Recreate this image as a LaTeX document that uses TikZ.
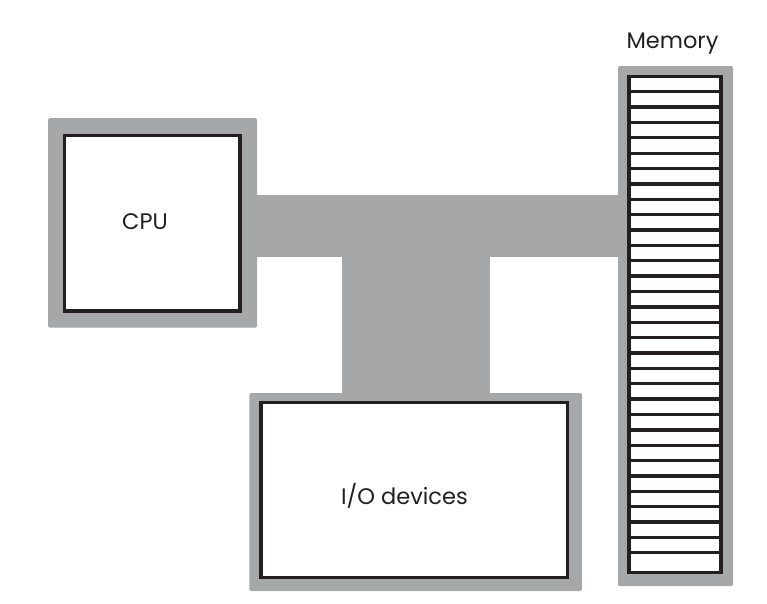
\documentclass[tikz,border=0pt]{standalone}
\usepackage{fontspec}
\setmainfont{Poppins}
\usetikzlibrary{positioning}
\definecolor{busgray}{RGB}{166,167,169}
\definecolor{inkblack}{RGB}{35,31,32}
\tikzset{
  frame/.style = {fill=busgray, inner sep=0pt, rounded corners=1.5pt},
  unit/.style  = {draw=inkblack, fill=white, line width=3.3pt, inner sep=0pt},
  cell/.style  = {draw=inkblack, line width=3.3pt},
  title/.style = {inner sep=0pt, anchor=base, text=inkblack,
                  font=\fontsize{22.5}{26}\selectfont}
}

\begin{document}
\begin{tikzpicture}[x=1pt, y=-1pt]
\useasboundingbox (0,0) rectangle (767,603);

% gray frames round the units
\node[frame, minimum width=209pt, minimum height=209.5pt] (cpuframe) at (152.5,222.75) {};
\node[frame, minimum width=115pt, minimum height=520pt]   (memframe) at (675.5,326) {};
\node[frame, minimum width=332.5pt, minimum height=198pt] (ioframe)  at (415.5,492) {};

% the bus
\fill[busgray] (cpuframe.east |- 0,195) rectangle (memframe.west |- 0,257);
\fill[busgray] (342,257) rectangle (ioframe.north -| 490,0);

% units
\node[unit, minimum width=175.7pt, minimum height=175.3pt] (cpu) at (152.15,223.35) {};
\node[unit, minimum width=92pt, minimum height=495.6pt]    (mem) at (675,324.5) {};
\node[unit, minimum width=306.7pt, minimum height=175pt]   (io)  at (414.35,490.2) {};

\foreach \i in {0,...,30}{
  \pgfmathsetmacro\yrow{91.7+15.37*\i}
  \draw[cell] (mem.west |- 0,\yrow) -- (mem.east |- 0,\yrow);
}

\node[title] (cputext) at (145,229.5)   {CPU};
\node[title] (iotext)  at (404.5,504.3) {I/O devices};
\node[title] (memtext) at (672.5,48.3)  {Memory};

\end{tikzpicture}
\end{document}
